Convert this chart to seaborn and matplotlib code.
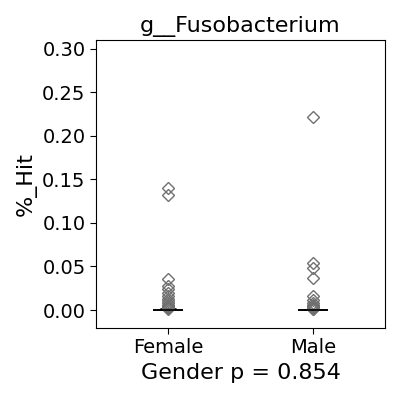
import pandas as pd
import numpy as np
import matplotlib
matplotlib.use("Agg")
import matplotlib.pyplot as plt
import seaborn as sns

# outlier values, rest of the samples are zero
female_hits = [0.140, 0.132, 0.036, 0.028, 0.024, 0.020, 0.016, 0.013, 0.010,
               0.008, 0.006, 0.005, 0.004, 0.0035, 0.003, 0.0025, 0.002, 0.0015,
               0.001, 0.0008, 0.0006, 0.0004, 0.0003, 0.0002, 0.0001]
male_hits = [0.222, 0.054, 0.048, 0.037, 0.016, 0.011, 0.008, 0.006, 0.005,
             0.004, 0.003, 0.002, 0.0015, 0.001, 0.0006, 0.0003, 0.0001]
female_zeros = 60
male_zeros = 45
groups = ["Female", "Male"]
p_value = 0.854

gender = ["Female"] * (len(female_hits) + female_zeros) + ["Male"] * (len(male_hits) + male_zeros)
hits = female_hits + [0.0] * female_zeros + male_hits + [0.0] * male_zeros
df = pd.DataFrame({"Gender": gender, "%_Hit": hits})

sns.set_style("white")
plt.rcParams["font.family"] = ["DejaVu Sans"]
plt.rcParams["text.color"] = "black"
plt.rcParams["axes.labelcolor"] = "black"
plt.rcParams["xtick.color"] = "black"
plt.rcParams["ytick.color"] = "black"

fig = plt.figure(figsize=(4, 4), dpi=100)
ax = fig.add_axes([0.24, 0.18, 0.7225, 0.72])

sns.boxplot(data=df, x="Gender", y="%_Hit", order=groups, ax=ax, width=0.21,
            color="white", linecolor="black", linewidth=1.2,
            flierprops=dict(marker="D", markersize=6.5, markerfacecolor="none",
                            markeredgecolor="#707070", markeredgewidth=1.0))

ax.set_ylim(-0.0206, 0.31)
ax.set_yticks([0.0, 0.05, 0.10, 0.15, 0.20, 0.25, 0.30])
ax.set_yticklabels(["0.00", "0.05", "0.10", "0.15", "0.20", "0.25", "0.30"])
ax.tick_params(axis="both", labelsize=14, length=4, left=True, bottom=True)
ax.set_title("g__Fusobacterium", fontsize=16)
ax.set_xlabel(f"Gender p = {p_value}", fontsize=16)
ax.set_ylabel("%_Hit", fontsize=16)
for s in ax.spines.values():
    s.set_color("black")

fig.savefig("out.png", dpi=100)
